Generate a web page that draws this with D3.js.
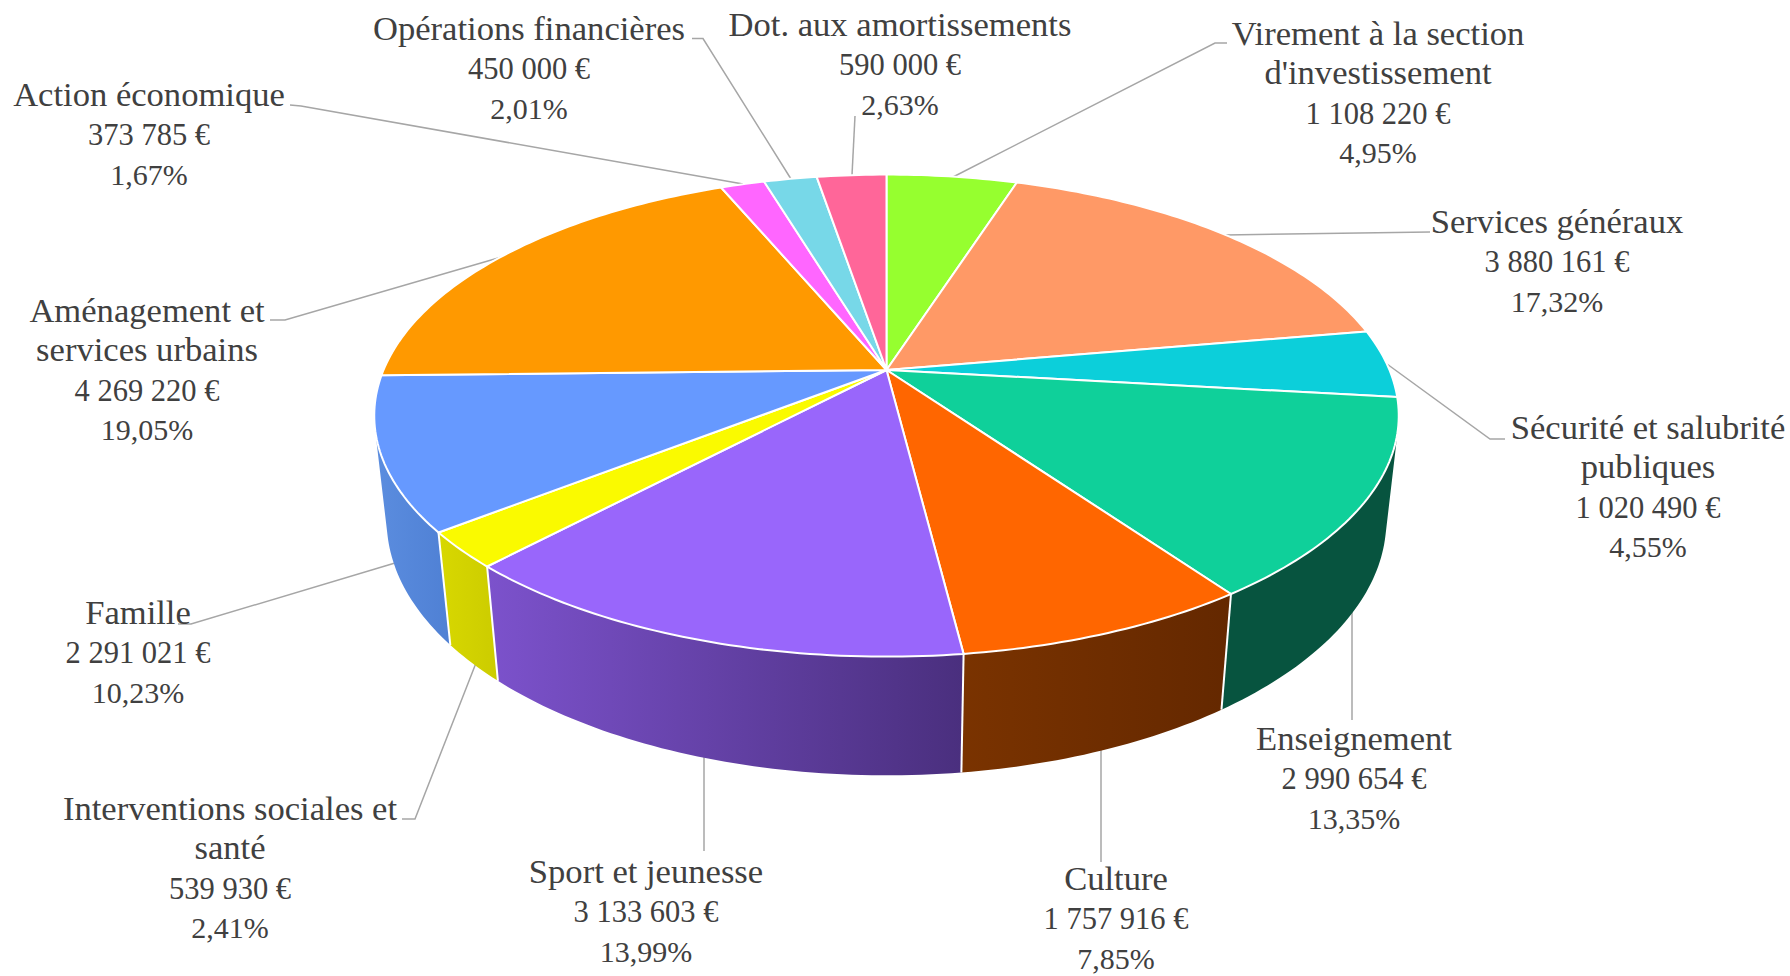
<!DOCTYPE html>
<html lang="fr">
<head>
<meta charset="utf-8">
<script src="https://cdn.jsdelivr.net/npm/d3@7/dist/d3.min.js"></script>
<style>
html,body{margin:0;padding:0;background:#fff;overflow:hidden}
text{font-family:"Liberation Serif",serif;font-size:34.6px;fill:#404040;text-anchor:middle}
tspan.amount{font-size:30.5px}
tspan.percent{font-size:30px}
</style>
</head>
<body>
<svg id="chart" width="1790" height="976"></svg>
<script>
// Values, clockwise from the top of the pie
const categories = [
  ["Virement à la section","d'investissement"],
  ["Services généraux"],
  ["Sécurité et salubrité","publiques"],
  ["Enseignement"],
  ["Culture"],
  ["Sport et jeunesse"],
  ["Interventions sociales et","santé"],
  ["Famille"],
  ["Aménagement et","services urbains"],
  ["Action économique"],
  ["Opérations financières"],
  ["Dot. aux amortissements"]
];
const amounts = [1108220,3880161,1020490,2990654,1757916,3133603,539930,2291021,4269220,373785,450000,590000];
const amountLabels = ["1 108 220 €","3 880 161 €","1 020 490 €","2 990 654 €","1 757 916 €","3 133 603 €","539 930 €","2 291 021 €","4 269 220 €","373 785 €","450 000 €","590 000 €"];
const percentLabels = ["4,95%","17,32%","4,55%","13,35%","7,85%","13,99%","2,41%","10,23%","19,05%","1,67%","2,01%","2,63%"];
// Styles
const topColors = ["#96ff2f","#ff9966","#0ccfda","#0fd09a","#ff6600","#9966fb","#fafa00","#6699ff","#ff9900","#ff66ff","#77d8e8","#ff6699"];
const wallLeft  = ["#5a9a1c","#995c3d","#077c83","#07543f","#7a3300","#7c52cc","#d8d800","#5b8ddf","#995c00","#993d99","#47828b","#993d5c"];
const wallRight = ["#5a9a1c","#995c3d","#077c83","#07543f","#642800","#4a2f7e","#cccc00","#4f80d4","#995c00","#993d99","#47828b","#993d5c"];
// Layout: label centre x and first baseline
const labelX = [1378,1557,1648,1354,1116,646,230,138,147,149,529,900];
const labelY = [45,233,439,750,890,883,820,624,322,106,40,36];
const lineStep = 39.4;
const leaders = [
  [[1227,43],[1215,43],[953,177]],
  [[1430,232],[1225,235]],
  [[1387,364],[1490,439],[1505,439]],
  [[1352,612],[1352,720]],
  [[1101,750],[1101,862]],
  [[704,757],[704,851]],
  [[476,663],[415,819],[402,819]],
  [[395,563],[191,624],[178,624]],
  [[505,256],[285,320],[270,320]],
  [[743,184],[301,106],[290,105]],
  [[791,179],[703,38.5],[692,38.5]],
  [[852,175],[855,116]]
];
// Pinhole projection of the disc (u right, v away, z downward)
const cam = {cx:886.5, cy:370, B:503, A:232.4, C:106, k:0.1892, m:0.024};
function project(theta, z){
  const u = Math.sin(theta), v = Math.cos(theta);
  const w = 1 + cam.k*v + cam.m*z;
  return [cam.cx + cam.B*u/w, cam.cy + (cam.C*z - cam.A*v)/w];
}
// Rim angles where the side wall turns away from the viewer
const vanishY = cam.C/cam.m;
const silhouette = Math.acos(-vanishY/(cam.A + cam.k*vanishY) === 0 ? 0 : (cam.A + cam.k*vanishY)/(-vanishY));
const wallStart = silhouette, wallEnd = 2*Math.PI - silhouette;

const svg = d3.select("#chart");
const arcs = d3.pie().sort(null).startAngle(0).endAngle(2*Math.PI).value(d=>d)(amounts);
const path = d3.line();
function rim(a0, a1, z){
  const n = Math.max(2, Math.ceil((a1-a0)*60));
  return d3.range(n+1).map(i=>project(a0+(a1-a0)*i/n, z));
}
// Leaders lie under the pie
svg.append("g").selectAll("path").data(leaders).join("path")
  .attr("d",d=>path(d)).attr("fill","none").attr("stroke","#a6a6a6").attr("stroke-width",1.5);
// Wall gradients
const defs = svg.append("defs");
arcs.forEach((a,i)=>{
  const g = defs.append("linearGradient").attr("id","wall"+i);
  g.append("stop").attr("offset",0).attr("stop-color",wallLeft[i]);
  g.append("stop").attr("offset",1).attr("stop-color",wallRight[i]);
});
// Walls: only the part of each slice facing the viewer
const front = arcs.map((a,i)=>({i, a0:Math.max(a.startAngle,wallStart), a1:Math.min(a.endAngle,wallEnd)})).filter(d=>d.a1>d.a0);
svg.append("g").selectAll("path").data(front).join("path")
  .attr("d",d=>path(rim(d.a0,d.a1,0).concat(rim(d.a0,d.a1,1).reverse()))+"Z")
  .attr("fill",d=>`url(#wall${d.i})`);
svg.append("g").selectAll("path").data(front.filter(d=>d.a0>wallStart)).join("path")
  .attr("d",d=>path([project(d.a0,0),project(d.a0,1)]))
  .attr("stroke","#fff").attr("stroke-width",2).attr("fill","none");
// Top face
svg.append("g").selectAll("path").data(arcs).join("path")
  .attr("d",a=>path([[cam.cx,cam.cy]].concat(rim(a.startAngle,a.endAngle,0)))+"Z")
  .attr("fill",(a,i)=>topColors[i])
  .attr("stroke","#fff").attr("stroke-width",2).attr("stroke-linejoin","round");
// Labels
const lab = svg.append("g").selectAll("text").data(arcs).join("text")
  .attr("transform",(a,i)=>`translate(${labelX[i]},${labelY[i]})`);
lab.each(function(a,i){
  const n = categories[i].length;
  const lines = categories[i].concat([amountLabels[i],percentLabels[i]]);
  d3.select(this).selectAll("tspan").data(lines).join("tspan")
    .attr("class",(d,j)=>j<n?"name":(j===n?"amount":"percent"))
    .attr("x",0).attr("y",(d,j)=>j*lineStep).text(d=>d);
});
</script>
</body>
</html>
